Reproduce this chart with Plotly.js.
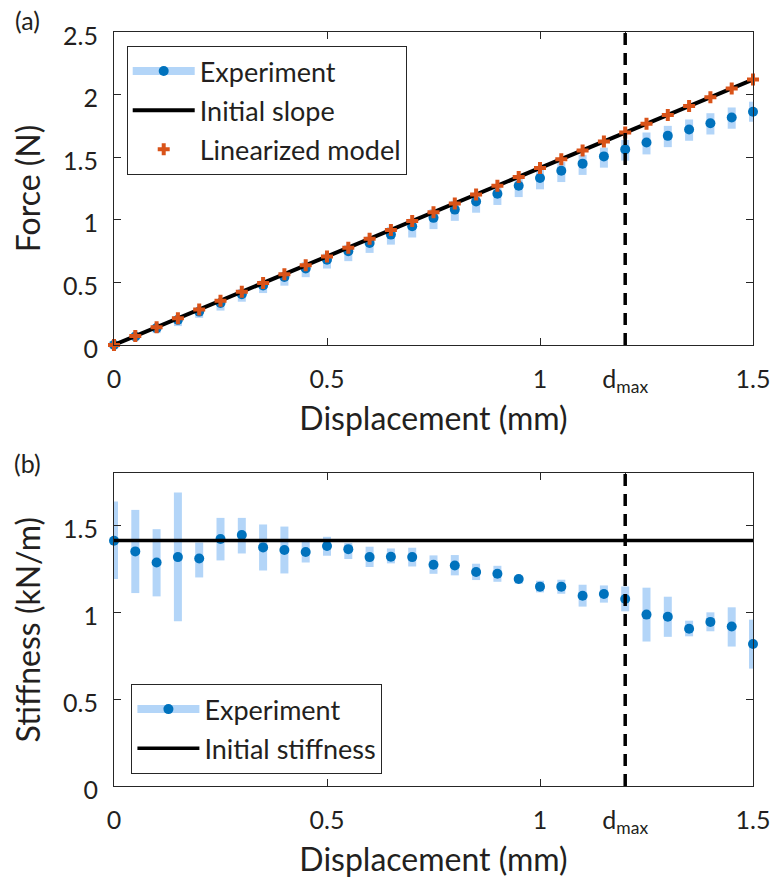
<!DOCTYPE html>
<html>
<head>
<meta charset="utf-8">
<script src="https://cdn.plot.ly/plotly-3.0.1.min.js"></script>
<style>html,body{margin:0;padding:0;background:#fff;}#chart{width:771px;height:882px;}</style>
</head>
<body>
<div id="chart"></div>
<script>
// ---- data ----
const displacement = [0,0.05,0.10,0.15,0.20,0.25,0.30,0.35,0.40,0.45,0.50,0.55,0.60,0.65,0.70,0.75,0.80,0.85,0.90,0.95,1.00,1.05,1.10,1.15,1.20,1.25,1.30,1.35,1.40,1.45,1.50];
const forceExp = [0,0.067,0.134,0.200,0.266,0.334,0.405,0.474,0.543,0.611,0.680,0.749,0.815,0.881,0.948,1.015,1.081,1.146,1.208,1.271,1.333,1.391,1.448,1.506,1.562,1.617,1.670,1.721,1.771,1.817,1.863];
const forceErrUp = [0.01,0.02,0.02,0.03,0.03,0.03,0.04,0.04,0.04,0.05,0.05,0.05,0.05,0.06,0.06,0.07,0.07,0.07,0.07,0.07,0.07,0.07,0.07,0.07,0.075,0.08,0.08,0.08,0.08,0.08,0.08];
const forceErrDown = [0.01,0.03,0.04,0.05,0.05,0.06,0.06,0.06,0.07,0.07,0.07,0.08,0.08,0.08,0.09,0.09,0.09,0.09,0.09,0.09,0.09,0.09,0.09,0.09,0.09,0.095,0.09,0.09,0.09,0.09,0.08];
const forceLinearized = [0,0.071,0.141,0.212,0.283,0.353,0.424,0.495,0.565,0.636,0.707,0.777,0.848,0.918,0.989,1.060,1.130,1.201,1.272,1.342,1.413,1.484,1.554,1.625,1.696,1.766,1.837,1.908,1.978,2.049,2.120];
const slopeX = [0, 1.5];
const slopeY = [0, 2.12];
const stiffExp = [1.412,1.351,1.287,1.318,1.310,1.422,1.445,1.374,1.359,1.347,1.382,1.364,1.318,1.320,1.318,1.274,1.270,1.232,1.222,1.192,1.148,1.148,1.096,1.106,1.077,0.987,0.975,0.906,0.945,0.918,0.818];
const stiffUpper = [1.638,1.590,1.479,1.690,1.402,1.544,1.544,1.506,1.494,1.406,1.435,1.399,1.378,1.368,1.372,1.328,1.330,1.280,1.268,1.211,1.182,1.188,1.159,1.155,1.149,1.142,1.090,0.952,1.000,1.029,0.958];
const stiffLower = [1.192,1.111,1.092,0.948,1.201,1.299,1.339,1.241,1.224,1.287,1.326,1.307,1.261,1.282,1.264,1.222,1.213,1.186,1.176,1.165,1.115,1.107,1.033,1.056,1.006,0.832,0.859,0.862,0.891,0.803,0.676];
const initialStiffness = [1.413, 1.413];
const dmax = 1.2;
const xTickVals = [0, 0.5, 1, dmax, 1.5];
const xTickText = ['0', '0.5', '1', 'd<sub>max</sub>', '1.5'];

// ---- style ----
const FONT = 'Lato, "Open Sans", sans-serif';
const TXT = '#231f20';
const AX = '#262626';
const BLUE = '#0072bd';
const LIGHT = '#b3d5f8';
const ORANGE = '#d95319';

const stiffErrUp = stiffUpper.map((u, i) => +(u - stiffExp[i]).toFixed(3));
const stiffErrDown = stiffLower.map((l, i) => +(stiffExp[i] - l).toFixed(3));

const traces = [
  // top panel
  {x: displacement, y: forceExp, xaxis: 'x', yaxis: 'y', mode: 'markers', type: 'scatter',
   marker: {color: BLUE, size: 10}, cliponaxis: false, showlegend: false,
   error_y: {type: 'data', symmetric: false, array: forceErrUp, arrayminus: forceErrDown, color: LIGHT, thickness: 8, width: 0}},
  {x: [null], y: [null], xaxis: 'x', yaxis: 'y', mode: 'lines+markers', type: 'scatter', name: 'Experiment',
   line: {color: LIGHT, width: 8}, marker: {color: BLUE, size: 10}, legend: 'legend', legendgroup: 'a1'},
  {x: slopeX, y: slopeY, xaxis: 'x', yaxis: 'y', mode: 'lines', type: 'scatter', name: 'Initial slope',
   line: {color: '#000', width: 4}, legend: 'legend', legendgroup: 'a2'},
  {x: displacement, y: forceLinearized, xaxis: 'x', yaxis: 'y', mode: 'markers', type: 'scatter', name: 'Linearized model',
   marker: {color: ORANGE, size: 10, symbol: 'cross'}, cliponaxis: false, legend: 'legend', legendgroup: 'a3'},
  // bottom panel
  {x: displacement, y: stiffExp, xaxis: 'x2', yaxis: 'y2', mode: 'markers', type: 'scatter',
   marker: {color: BLUE, size: 10}, cliponaxis: false, showlegend: false,
   error_y: {type: 'data', symmetric: false, array: stiffErrUp, arrayminus: stiffErrDown, color: LIGHT, thickness: 8, width: 0}},
  {x: [null], y: [null], xaxis: 'x2', yaxis: 'y2', mode: 'lines+markers', type: 'scatter', name: 'Experiment',
   line: {color: LIGHT, width: 8}, marker: {color: BLUE, size: 10}, legend: 'legend2', legendgroup: 'b1'},
  {x: slopeX, y: initialStiffness, xaxis: 'x2', yaxis: 'y2', mode: 'lines', type: 'scatter', name: 'Initial stiffness',
   line: {color: '#000', width: 3.5}, legend: 'legend2', legendgroup: 'b2'}
];

const axCommon = {
  showline: true, mirror: 'ticks', linecolor: AX, linewidth: 1,
  ticks: 'inside', ticklen: 7, tickcolor: AX, tickwidth: 1,
  showgrid: false, zeroline: false,
  tickfont: {family: FONT, size: 25, color: TXT},
  automargin: false
};

const W = 771, H = 882;
const mL = 114.3, mR = 18.3, mT = 31.7, mB = 96;
const plotH = H - mT - mB;
const plotW = W - mL - mR;

const legendCommon = {
  xanchor: 'left', yanchor: 'top',
  bgcolor: '#fff', bordercolor: AX, borderwidth: 1,
  font: {family: FONT, size: 27, color: TXT}, itemwidth: 62, tracegroupgap: 1
};

const layout = {
  width: W, height: H,
  margin: {l: mL, r: mR, t: mT, b: mB, pad: 0},
  paper_bgcolor: '#fff', plot_bgcolor: '#fff',
  font: {family: FONT, color: TXT},
  xaxis: Object.assign({}, axCommon, {
    domain: [0, 1], anchor: 'y', range: [0, 1.5],
    tickmode: 'array', tickvals: xTickVals, ticktext: xTickText, ticklabelstandoff: 12,
    title: {text: 'Displacement (mm)', font: {family: FONT, size: 32, color: TXT}, standoff: 11}
  }),
  yaxis: Object.assign({}, axCommon, {
    domain: [(786 - 344.7) / plotH, 1], anchor: 'x', range: [0, 2.5],
    tickmode: 'array', tickvals: [0, 0.5, 1, 1.5, 2, 2.5], ticktext: ['0', '0.5', '1', '1.5', '2', '2.5'],
    ticklabelstandoff: 10, ticklabelshift: 4,
    title: {text: 'Force (N)', font: {family: FONT, size: 32, color: TXT}, standoff: 12}
  }),
  xaxis2: Object.assign({}, axCommon, {
    domain: [0, 1], anchor: 'y2', range: [0, 1.5],
    tickmode: 'array', tickvals: xTickVals, ticktext: xTickText, ticklabelstandoff: 12,
    title: {text: 'Displacement (mm)', font: {family: FONT, size: 32, color: TXT}, standoff: 11}
  }),
  yaxis2: Object.assign({}, axCommon, {
    domain: [0, (786 - 473.3) / plotH], anchor: 'x2', range: [0, 1.8],
    tickmode: 'array', tickvals: [0, 0.5, 1, 1.5], ticktext: ['0', '0.5', '1', '1.5'],
    ticklabelstandoff: 10, ticklabelshift: 4,
    title: {text: 'Stiffness (kN/m)', font: {family: FONT, size: 32, color: TXT}, standoff: 12}
  }),
  legend: Object.assign({}, legendCommon, {x: (127 - mL) / plotW, y: (786 - 45.7) / plotH}),
  legend2: Object.assign({}, legendCommon, {x: (131.7 - mL) / plotW, y: (786 - 684) / plotH}),
  shapes: [
    {type: 'line', xref: 'x', yref: 'y domain', x0: dmax, x1: dmax, y0: 0, y1: 1,
     line: {color: '#000', width: 3.5, dash: '12px,8px'}},
    {type: 'line', xref: 'x2', yref: 'y2 domain', x0: dmax, x1: dmax, y0: 0, y1: 1,
     line: {color: '#000', width: 3.5, dash: '12px,8px'}}
  ],
  annotations: [
    {text: '(a)', xref: 'paper', yref: 'paper', x: (28 - mL) / plotW, y: (786 - 20) / plotH,
     xanchor: 'center', yanchor: 'middle',
     showarrow: false, font: {family: FONT, size: 25, color: TXT}},
    {text: '(b)', xref: 'paper', yref: 'paper', x: (28 - mL) / plotW, y: (786 - 463) / plotH,
     xanchor: 'center', yanchor: 'middle',
     showarrow: false, font: {family: FONT, size: 25, color: TXT}}
  ]
};

Plotly.newPlot('chart', traces, layout, {displayModeBar: false, staticPlot: true});
</script>
</body>
</html>
